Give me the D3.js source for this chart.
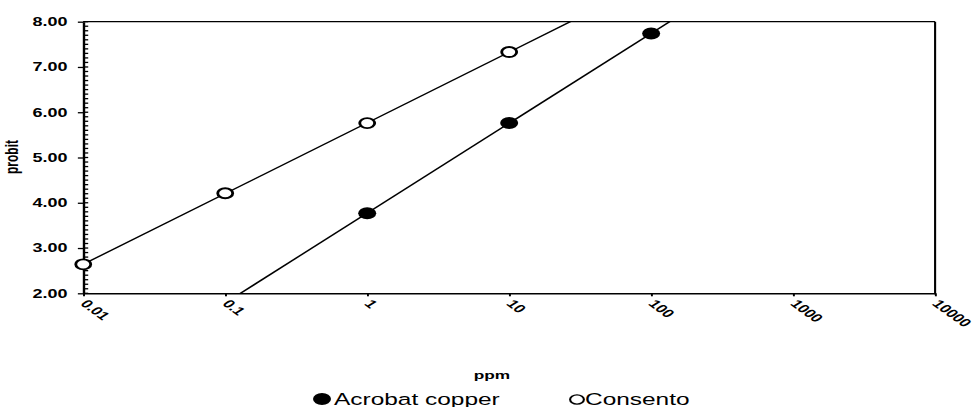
<!DOCTYPE html>
<html>
<head>
<meta charset="utf-8">
<script src="https://cdn.jsdelivr.net/npm/d3@7"></script>
<style>
  html, body { margin: 0; padding: 0; background: #fff; }
  svg { display: block; font-family: "Liberation Sans", Arial, sans-serif; }
</style>
</head>
<body>
<svg id="chart" width="974" height="407"></svg>
<script>
// ---- data ----
const xTickValues = [0.01, 0.1, 1, 10, 100, 1000, 10000];
const xTickLabels = ["0.01", "0.1", "1", "10", "100", "1000", "10000"];
const yTickValues = [2, 3, 4, 5, 6, 7, 8];
const yTickLabels = ["2.00", "3.00", "4.00", "5.00", "6.00", "7.00", "8.00"];
const seriesNames = ["Acrobat copper", "Consento"];
const acrobatPpm = [1, 10, 100];
const acrobatProbit = [3.77, 5.76, 7.74];
const consentoPpm = [0.01, 0.1, 1, 10];
const consentoProbit = [2.64, 4.21, 5.76, 7.33];

// ---- layout (whole picture is stretched horizontally) ----
const S = 1.5;
const pLeft = 55.5, pRight = 623.4, pTop = 21.7, pBottom = 293.3;

const svg = d3.select("#chart");
const g = svg.append("g").attr("transform", `scale(${S},1)`);

const x = d3.scaleLog().domain([0.01, 10000]).range([pLeft, pRight]);
const y = d3.scaleLinear().domain([2, 8]).range([pBottom, pTop]);

// clip
g.append("clipPath").attr("id", "plotclip")
  .append("rect").attr("x", pLeft).attr("y", pTop)
  .attr("width", pRight - pLeft).attr("height", pBottom - pTop);

// border top & right
g.append("line").attr("x1", pLeft).attr("x2", pRight).attr("y1", pTop).attr("y2", pTop)
  .attr("stroke", "#000").attr("stroke-width", 1.3);
g.append("line").attr("x1", pRight).attr("x2", pRight).attr("y1", pTop).attr("y2", pBottom + 1)
  .attr("stroke", "#000").attr("stroke-width", 1.4);

// y minor ticks (inside), every 0.1
const minor = d3.range(20, 81).map(v => v / 10);
g.append("g").selectAll("line").data(minor).join("line")
  .attr("x1", pLeft).attr("x2", pLeft + 3.3)
  .attr("y1", d => y(d)).attr("y2", d => y(d))
  .attr("stroke", "#000").attr("stroke-width", 1.3);

// y axis
const yAxis = g.append("g").attr("transform", `translate(${pLeft},0)`)
  .call(d3.axisLeft(y).tickValues(yTickValues).tickSize(3.6).tickSizeOuter(0)
    .tickFormat((d, i) => yTickLabels[i]));
yAxis.select(".domain").attr("stroke", "#000").attr("stroke-width", 1.6);
yAxis.selectAll(".tick line").attr("stroke", "#000").attr("stroke-width", 1.3);
yAxis.selectAll(".tick text").attr("x", -10.5).attr("font-size", 12)
  .attr("font-weight", "bold").attr("fill", "#000")
  .attr("font-family", "'Liberation Sans', Arial, sans-serif");

// x axis
const xAxis = g.append("g").attr("transform", `translate(0,${pBottom})`)
  .call(d3.axisBottom(x).tickValues(xTickValues).tickSize(3).tickSizeOuter(0)
    .tickFormat((d, i) => xTickLabels[i]));
xAxis.select(".domain").attr("stroke", "#000").attr("stroke-width", 1.5);
xAxis.selectAll(".tick line").attr("stroke", "#000").attr("stroke-width", 1.3);
xAxis.selectAll(".tick text")
  .attr("y", 0).attr("dy", 0)
  .attr("text-anchor", "start")
  .attr("transform", "translate(-3,11) rotate(47)")
  .attr("font-size", 11.5).attr("font-weight", "bold").attr("fill", "#000")
  .attr("font-family", "'Liberation Sans', Arial, sans-serif");

// regression lines (least squares in log space)
function fit(xs, ys) {
  const lx = xs.map(v => Math.log10(v));
  const mx = d3.mean(lx), my = d3.mean(ys);
  const b = d3.sum(lx.map((v, i) => (v - mx) * (ys[i] - my))) / d3.sum(lx.map(v => (v - mx) ** 2));
  return { b, a: my - b * mx };
}
const lineGen = d3.line().x(d => x(d[0])).y(d => y(d[1]));
[[acrobatPpm, acrobatProbit], [consentoPpm, consentoProbit]].forEach(([xs, ys]) => {
  const f = fit(xs, ys);
  const pts = [0.01, 10000].map(v => [v, f.a + f.b * Math.log10(v)]);
  g.append("path").attr("d", lineGen(pts)).attr("clip-path", "url(#plotclip)")
    .attr("fill", "none").attr("stroke", "#000").attr("stroke-width", 1.3);
});

// markers
g.selectAll(".acro").data(acrobatPpm).join("circle").attr("class", "acro")
  .attr("cx", d => x(d)).attr("cy", (d, i) => y(acrobatProbit[i]))
  .attr("r", 6).attr("fill", "#000");
g.selectAll(".cons").data(consentoPpm).join("circle").attr("class", "cons")
  .attr("cx", d => x(d)).attr("cy", (d, i) => y(consentoProbit[i]))
  .attr("r", 5).attr("fill", "#fff").attr("stroke", "#000").attr("stroke-width", 1.9);

// axis titles
g.append("text").attr("transform", `translate(${17.5 / S},157) rotate(-90)`)
  .attr("text-anchor", "middle").attr("font-size", 12).attr("font-weight", "bold")
  .text("probit");
g.append("text").attr("x", 492 / S).attr("y", 379)
  .attr("text-anchor", "middle").attr("font-size", 11.5).attr("font-weight", "bold")
  .text("ppm");

// legend
const leg = g.append("g");
leg.append("circle").attr("cx", 322 / S).attr("cy", 399).attr("r", 6).attr("fill", "#000");
leg.append("text").attr("x", 334 / S).attr("y", 405).attr("font-size", 16.3).text(seriesNames[0]);
leg.append("circle").attr("cx", 577 / S).attr("cy", 399.5).attr("r", 4.6).attr("fill", "#fff")
  .attr("stroke", "#000").attr("stroke-width", 1.4);
leg.append("text").attr("x", 585 / S).attr("y", 405).attr("font-size", 16.3).text(seriesNames[1]);
</script>
</body>
</html>
